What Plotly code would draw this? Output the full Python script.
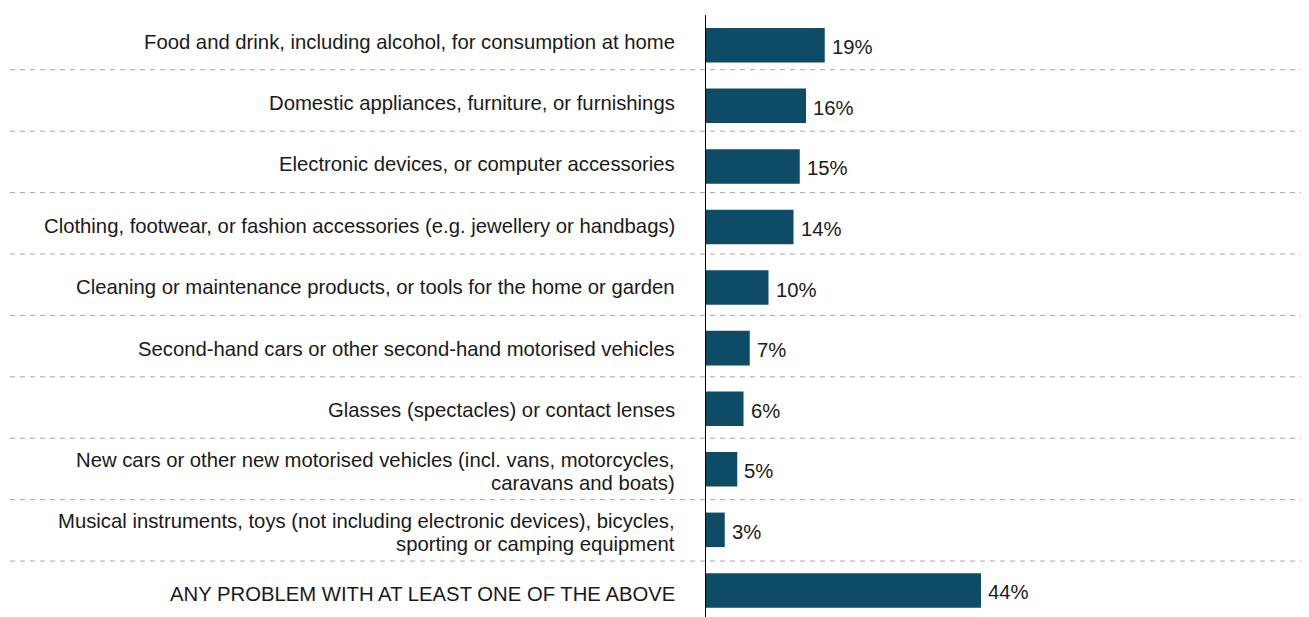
import plotly.graph_objects as go

categories = [
    "Food and drink, including alcohol, for consumption at home",
    "Domestic appliances, furniture, or furnishings",
    "Electronic devices, or computer accessories",
    "Clothing, footwear, or fashion accessories (e.g. jewellery or handbags)",
    "Cleaning or maintenance products, or tools for the home or garden",
    "Second-hand cars or other second-hand motorised vehicles",
    "Glasses (spectacles) or contact lenses",
    "New cars or other new motorised vehicles (incl. vans, motorcycles,<br>caravans and boats)",
    "Musical instruments, toys (not including electronic devices), bicycles,<br>sporting or camping equipment",
    "ANY PROBLEM WITH AT LEAST ONE OF THE ABOVE",
]
values = [19, 16, 15, 14, 10, 7, 6, 5, 3, 44]
value_labels = [f"{v}%" for v in values]

PAGE_OFF = 8  # default body margin of the html page
W, H = 1309 - PAGE_OFF, 617 - PAGE_OFF
AXIS_X = 706          # page x of the value axis (0%)
FIRST_CENTER = 45     # page y of first bar center
ROW_PX = 60.6         # pixels between bar centers
SEP_FIRST = 69.5      # page y of first separator
SEP_STEP = 61.44      # pixels between separators
LABEL_OFF = 2.5       # label center below separator-band midpoint
px_per_pct = 6.25
FONT = "Liberation Sans, Arial"
FS = 20.3
LINE_PX = 23

n = len(categories)
idx = list(range(n))
top_page = FIRST_CENTER - 0.5 * ROW_PX
left = AXIS_X - PAGE_OFF
top = top_page - PAGE_OFF
y_bottom = -0.5 + (617 - top_page) / ROW_PX


def page_to_y(py):
    return (py - FIRST_CENTER) / ROW_PX


fig = go.Figure()
fig.add_trace(go.Bar(
    x=values, y=idx, orientation="h",
    marker=dict(color="#0E4B66", line=dict(width=0)),
    width=0.57,
    hoverinfo="skip",
))

annotations = []
for i, c in enumerate(categories):
    lines = c.split("<br>")
    k = len(lines)
    yc = page_to_y(SEP_FIRST - SEP_STEP / 2 + i * SEP_STEP + LABEL_OFF)
    for j, ln in enumerate(lines):
        shift = ((k - 1) / 2 - j) * LINE_PX
        annotations.append(dict(
            x=0, xref="paper", y=yc, yref="y", text=ln, showarrow=False,
            xanchor="right", yanchor="middle", align="right", xshift=-29,
            yshift=shift,
            font=dict(family=FONT, size=FS, color="#1a1a1a"),
        ))
for i, (v, t) in enumerate(zip(values, value_labels)):
    annotations.append(dict(
        x=v, xref="x", y=i, yref="y", text=t, showarrow=False,
        xanchor="left", yanchor="middle", xshift=5, yshift=-2,
        font=dict(family=FONT, size=FS, color="#1a1a1a"),
    ))

shapes = []
x0_paper = (10 - AXIS_X) / (1309 - AXIS_X)
for k in range(n - 1):
    ys = page_to_y(SEP_FIRST + k * SEP_STEP)
    shapes.append(dict(
        type="line", xref="paper", yref="y", x0=x0_paper, x1=1.0,
        y0=ys, y1=ys,
        line=dict(color="#A6A6A6", width=1, dash="5px,5px"),
        layer="below",
    ))

fig.update_layout(
    width=W, height=H,
    margin=dict(l=left, r=0, t=top, b=0),
    plot_bgcolor="white", paper_bgcolor="white",
    showlegend=False,
    annotations=annotations, shapes=shapes,
    xaxis=dict(range=[0, (W - left) / px_per_pct], visible=False, showgrid=False, zeroline=False),
    yaxis=dict(range=[y_bottom, -0.5], showticklabels=False, showgrid=False,
               zeroline=False, showline=True, linecolor="black", linewidth=1,
               ticks=""),
)

fig.write_html("out.html")
